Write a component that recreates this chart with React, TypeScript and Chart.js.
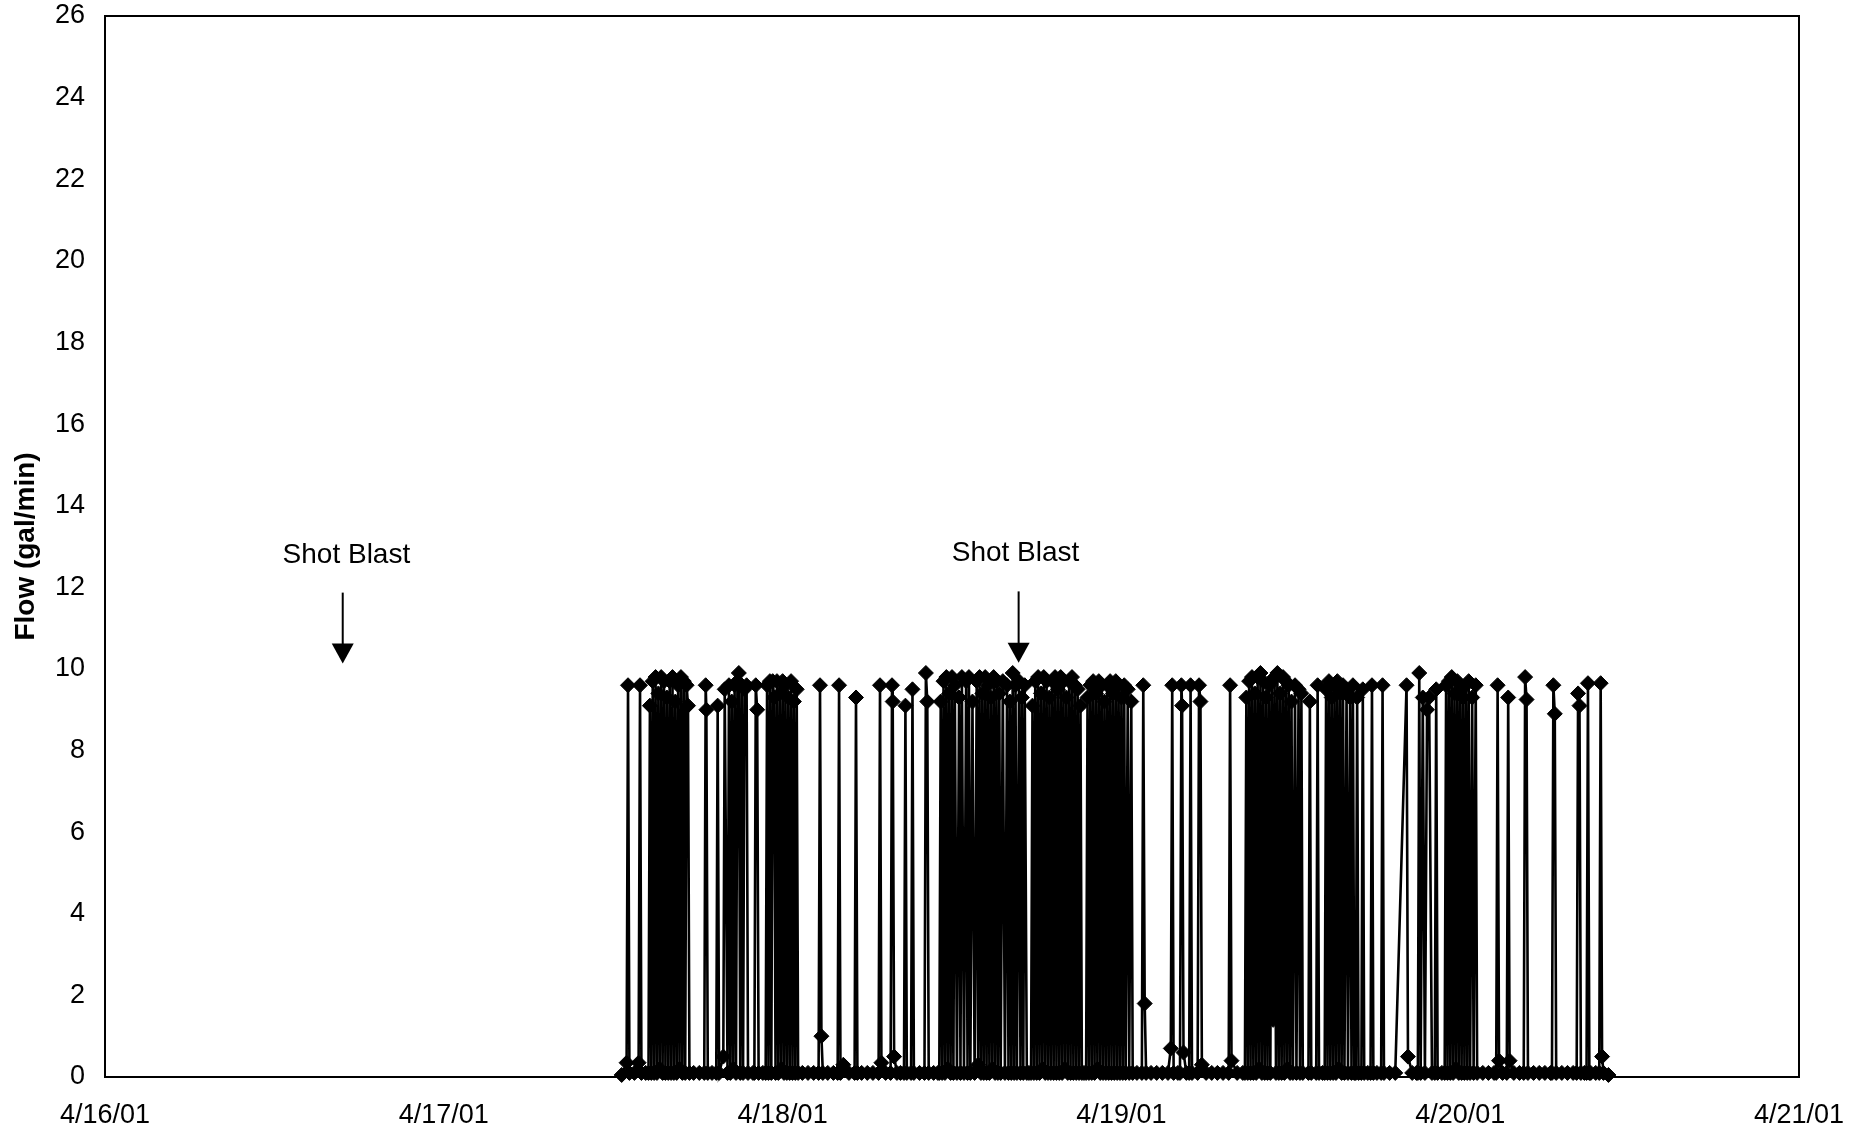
import React, { useEffect, useRef } from 'react';
import { Chart, registerables } from 'chart.js';

Chart.register(...registerables);

// x axis: hours since 4/16/01 00:00; one tick per day
const dateLabels = ['4/16/01', '4/17/01', '4/18/01', '4/19/01', '4/20/01', '4/21/01'];
const yAxisTitle = 'Flow (gal/min)';

// Flow readings (hours since 4/16/01 00:00) and flow (gal/min)
const flowHours = [
  36.6, 36.95, 37.05, 37.15, 37.5, 37.8, 37.9, 38.0, 38.3, 38.5,
  38.6, 38.7, 38.8, 38.9, 39.0, 39.1, 39.2, 39.3, 39.4, 39.5,
  39.6, 39.7, 39.8, 39.9, 40.0, 40.1, 40.2, 40.3, 40.4, 40.5,
  40.6, 40.7, 40.8, 40.9, 41.0, 41.1, 41.2, 41.3, 41.4,
  41.7, 42.1, 42.45, 42.55, 42.6, 42.7, 43.0,
  43.3, 43.4, 43.5, 43.8, 43.9, 44.1, 44.2, 44.3, 44.4, 44.5,
  44.6, 44.7, 44.8, 44.9, 45.0, 45.1, 45.2, 45.3, 45.45, 45.55,
  45.9, 46.0, 46.1, 46.2, 46.3, 46.6,
  46.8, 46.9, 47.0, 47.1, 47.2, 47.3, 47.4, 47.5, 47.6, 47.7,
  47.8, 47.9, 48.0, 48.1, 48.2, 48.3, 48.4, 48.5, 48.6, 48.7,
  48.8, 48.9, 49.0, 49.1,
  49.4, 49.8, 50.2, 50.55, 50.65, 50.75, 50.85, 51.2, 51.6, 51.9,
  52.0, 52.1, 52.3, 52.7, 53.1, 53.2, 53.3, 53.6, 54.0, 54.4,
  54.8, 54.9, 55.0,
  55.3, 55.65, 55.75, 55.8, 55.9, 56.1, 56.35, 56.6, 56.7, 56.8,
  57.1, 57.2, 57.3, 57.7, 58.05, 58.15, 58.25, 58.35, 58.7,
  59.0, 59.1, 59.2, 59.3, 59.4, 59.5, 59.6, 59.7, 59.8, 59.9,
  60.0, 60.1, 60.2, 60.35, 60.5, 60.6, 60.7, 60.85, 61.0, 61.1,
  61.2, 61.3, 61.45, 61.6, 61.75, 61.85, 61.95, 62.05, 62.15, 62.25,
  62.35, 62.45, 62.55, 62.65, 62.75, 62.85, 62.95, 63.05, 63.15, 63.25,
  63.35, 63.45, 63.6, 63.75, 63.9, 64.0, 64.1, 64.2, 64.3, 64.4,
  64.5, 64.6, 64.75, 64.85, 64.95, 65.05, 65.15, 65.3, 65.45, 65.6,
  65.7, 65.8, 65.9, 66.0, 66.1, 66.2, 66.3, 66.4, 66.5, 66.6,
  66.7, 66.8, 66.9, 67.0, 67.1, 67.2, 67.3, 67.4, 67.5, 67.6,
  67.7, 67.8, 67.9, 68.0, 68.1, 68.2, 68.3, 68.4, 68.5, 68.6,
  68.7, 68.8, 68.9, 69.0, 69.1, 69.2, 69.35, 69.5,
  69.6, 69.7, 69.8, 69.9, 70.0, 70.1, 70.2, 70.3, 70.4, 70.5,
  70.6, 70.7, 70.8, 70.9, 71.0, 71.1, 71.2, 71.3, 71.4, 71.5,
  71.6, 71.7, 71.8, 71.9, 72.0, 72.1, 72.2, 72.3, 72.45, 72.55,
  72.7, 72.8, 73.1,
  73.45, 73.55, 73.65, 73.75, 74.1, 74.5, 74.9, 75.3, 75.5, 75.6,
  75.7, 76.0, 76.15, 76.25, 76.3, 76.4, 76.6, 76.8, 76.9, 77.0,
  77.4, 77.5, 77.6, 77.7, 78.0, 78.4, 78.8, 79.2, 79.6, 79.7,
  79.8, 80.2, 80.6, 80.75,
  80.85, 80.95, 81.05, 81.15, 81.25, 81.35, 81.45, 81.55, 81.65, 81.75,
  81.85, 81.95, 82.05, 82.15, 82.25, 82.35, 82.45, 82.55, 82.65, 82.75,
  82.85, 82.95, 83.05, 83.15, 83.25, 83.35, 83.45, 83.55, 83.65, 83.75,
  83.85, 83.95, 84.05, 84.15, 84.3, 84.4, 84.55, 84.65, 84.75, 84.85,
  85.25, 85.35, 85.45, 85.8, 85.9, 86.0, 86.25, 86.4, 86.5, 86.6,
  86.7, 86.8, 86.9, 87.0, 87.1, 87.2, 87.3, 87.4, 87.5, 87.6,
  87.7, 87.8, 87.95, 88.05, 88.2, 88.3, 88.4, 88.5, 88.6, 88.7,
  88.8, 89.0, 89.1, 89.2, 89.45, 89.65, 89.75, 89.85, 90.1, 90.4,
  90.5, 90.6, 91.0, 91.4,
  92.2, 92.3, 92.6, 92.9, 93.0, 93.1, 93.2, 93.35, 93.5, 93.65,
  93.8, 94.0, 94.2, 94.3, 94.4, 94.7, 94.9, 95.0, 95.1, 95.2,
  95.3, 95.4, 95.5, 95.6, 95.7, 95.8, 95.9, 96.0, 96.1, 96.2,
  96.3, 96.4, 96.5, 96.6, 96.7, 96.85, 96.95, 97.1, 97.2,
  97.6, 98.0, 98.4, 98.55, 98.65, 98.75, 99.0, 99.3, 99.4, 99.5,
  99.8, 100.2, 100.5, 100.6, 100.7, 100.8, 101.2, 101.6, 102.0, 102.4,
  102.5, 102.6, 102.7, 102.8, 103.2, 103.6, 104.0, 104.25, 104.35, 104.45,
  104.55, 104.8, 104.95, 105.05, 105.15, 105.25, 105.6, 105.85, 105.95, 106.05,
  106.15, 106.5,
];

const flowValues = [
  0.05, 0.35, 9.6, 0.1, 0.1, 0.35, 9.6, 0.1, 0.1, 0.1,
  9.1, 0.1, 9.7, 0.1, 9.8, 0.1, 9.4, 0.2, 9.8, 0.1,
  9.7, 0.1, 9.3, 0.1, 9.7, 0.1, 9.8, 0.1, 9.2, 0.1,
  9.6, 0.2, 9.8, 0.1, 9.7, 0.1, 9.6, 9.1, 0.1,
  0.1, 0.1, 0.1, 9.6, 9.0, 0.1, 0.1,
  0.1, 9.1, 0.1, 0.5, 9.5, 0.1, 9.6, 0.1, 9.2, 0.2,
  9.6, 0.1, 9.7, 9.9, 0.1, 9.6, 0.1, 9.5, 9.6, 0.1,
  0.1, 0.1, 9.6, 9.0, 0.1, 0.1,
  0.1, 9.6, 0.1, 9.7, 0.1, 9.7, 9.3, 0.1, 9.7, 0.1,
  9.4, 0.2, 9.7, 0.1, 9.6, 0.1, 9.3, 0.1, 9.7, 0.1,
  9.2, 0.1, 9.5, 0.1,
  0.1, 0.1, 0.1, 0.1, 9.6, 1.0, 0.1, 0.1, 0.1, 0.1,
  9.6, 0.1, 0.3, 0.1, 0.1, 9.3, 0.1, 0.1, 0.1, 0.1,
  0.1, 9.6, 0.35,
  0.1, 0.1, 9.6, 9.2, 0.5, 0.1, 0.1, 0.1, 9.1, 0.1,
  0.1, 9.5, 0.1, 0.1, 0.1, 9.9, 9.2, 0.1, 0.1,
  0.1, 0.1, 9.2, 0.1, 9.7, 0.1, 9.8, 0.2, 9.4, 0.1,
  9.8, 0.1, 9.6, 0.1, 9.3, 0.1, 9.8, 0.1, 9.7, 0.1,
  9.8, 0.1, 9.2, 0.1, 9.7, 0.3, 9.8, 0.1, 9.4, 0.1,
  9.8, 0.1, 9.6, 0.1, 9.3, 0.2, 9.8, 0.1, 9.7, 0.1,
  9.4, 0.1, 9.7, 0.1, 9.6, 0.1, 9.2, 0.1, 9.9, 0.1,
  9.6, 0.1, 9.7, 0.1, 9.3, 0.1, 9.6, 0.1, 0.1, 0.1,
  9.1, 0.1, 9.7, 0.1, 9.8, 0.1, 9.4, 0.2, 9.8, 0.1,
  9.7, 0.1, 9.3, 0.1, 9.7, 0.1, 9.8, 0.1, 9.5, 0.1,
  9.8, 0.1, 9.7, 0.2, 9.3, 0.1, 9.7, 0.1, 9.8, 0.1,
  9.6, 0.1, 9.5, 0.1, 9.1, 0.1, 0.1, 0.1,
  9.3, 0.1, 9.6, 0.1, 9.7, 0.1, 9.4, 0.2, 9.7, 0.1,
  9.6, 0.1, 9.2, 0.1, 9.6, 0.1, 9.7, 0.1, 9.4, 0.1,
  9.7, 0.1, 9.6, 0.1, 9.3, 0.1, 9.6, 0.1, 9.5, 0.1,
  9.2, 0.1, 0.1,
  0.1, 9.6, 1.8, 0.1, 0.1, 0.1, 0.1, 0.1, 0.7, 9.6,
  0.1, 0.1, 0.1, 9.6, 9.1, 0.6, 0.1, 0.1, 9.6, 0.1,
  0.1, 9.6, 9.2, 0.3, 0.1, 0.1, 0.1, 0.1, 0.1, 9.6,
  0.4, 0.1, 0.1, 0.1,
  9.3, 0.1, 9.7, 0.1, 9.8, 0.1, 9.4, 0.1, 9.8, 0.2,
  9.9, 0.1, 9.7, 0.1, 9.3, 0.1, 9.6, 0.1, 9.7, 1.4,
  9.8, 0.1, 9.9, 0.1, 9.4, 0.1, 9.8, 0.1, 9.7, 0.2,
  9.6, 0.1, 9.2, 0.1, 9.6, 0.1, 9.5, 0.1, 9.4, 0.1,
  0.1, 9.2, 0.1, 0.1, 9.6, 0.1, 0.1, 0.1, 9.5, 0.1,
  9.7, 0.1, 9.3, 0.1, 9.6, 0.1, 9.7, 0.2, 9.4, 0.1,
  9.6, 0.1, 9.5, 0.1, 9.3, 0.1, 9.6, 0.1, 0.1, 9.3,
  0.1, 0.1, 9.5, 0.1, 0.1, 0.1, 9.6, 0.1, 0.1, 0.1,
  9.6, 0.1, 0.1, 0.1,
  9.6, 0.5, 0.1, 0.1, 0.1, 9.9, 0.1, 9.3, 0.1, 9.0,
  9.3, 0.1, 0.1, 9.5, 0.1, 0.1, 0.1, 9.6, 0.1, 9.7,
  0.1, 9.8, 0.1, 9.4, 0.2, 9.7, 0.1, 9.6, 0.1, 9.3,
  0.1, 9.6, 0.1, 9.7, 0.1, 9.3, 0.1, 9.6, 0.1,
  0.1, 0.1, 0.1, 0.1, 9.6, 0.4, 0.1, 0.1, 9.3, 0.4,
  0.1, 0.1, 0.1, 9.8, 9.25, 0.1, 0.1, 0.1, 0.1, 0.1,
  0.1, 9.6, 8.9, 0.1, 0.1, 0.1, 0.1, 0.1, 9.4, 9.1,
  0.1, 0.1, 0.1, 9.65, 0.1, 0.1, 0.1, 0.1, 9.65, 0.5,
  0.1, 0.05,
];

// "Shot Blast" annotations (hours / flow units)
const shotBlastLabels = ['Shot Blast', 'Shot Blast'];
const shotBlastTextHours = [17.1, 64.5];
const shotBlastTextFlows = [12.6, 12.65];
const shotBlastArrowHours = [16.84, 64.72];
const shotBlastArrowTopFlows = [11.87, 11.9];
const shotBlastArrowTipFlows = [10.13, 10.15];

const FONT = '"Liberation Sans", Arial, Helvetica, sans-serif';

const framePlugin = {
  id: 'plotFrame',
  afterDatasetsDraw(chart: any) {
    const { ctx, chartArea: a } = chart;
    ctx.save();
    ctx.strokeStyle = '#000';
    ctx.lineWidth = 2;
    ctx.strokeRect(a.left, a.top, a.right - a.left, a.bottom - a.top);
    ctx.restore();
  },
};

const shotBlastPlugin = {
  id: 'shotBlast',
  afterDraw(chart: any) {
    const { ctx } = chart;
    const xs = chart.scales.x;
    const ys = chart.scales.y;
    ctx.save();
    ctx.fillStyle = '#000';
    ctx.strokeStyle = '#000';
    ctx.font = `28px ${FONT}`;
    ctx.textAlign = 'center';
    ctx.textBaseline = 'alphabetic';
    shotBlastLabels.forEach((label, i) => {
      ctx.fillText(label, xs.getPixelForValue(shotBlastTextHours[i]), ys.getPixelForValue(shotBlastTextFlows[i]));
      const ax = xs.getPixelForValue(shotBlastArrowHours[i]);
      const top = ys.getPixelForValue(shotBlastArrowTopFlows[i]);
      const tip = ys.getPixelForValue(shotBlastArrowTipFlows[i]);
      const headH = 20;
      const headW = 11;
      ctx.lineWidth = 2;
      ctx.beginPath();
      ctx.moveTo(ax, top);
      ctx.lineTo(ax, tip - headH + 2);
      ctx.stroke();
      ctx.beginPath();
      ctx.moveTo(ax - headW, tip - headH);
      ctx.lineTo(ax + headW, tip - headH);
      ctx.lineTo(ax, tip);
      ctx.closePath();
      ctx.fill();
    });
    ctx.restore();
  },
};

export default function App() {
  const canvasRef = useRef<HTMLCanvasElement | null>(null);

  useEffect(() => {
    const canvas = canvasRef.current;
    if (!canvas) return;
    const n = Math.min(flowHours.length, flowValues.length);
    const points = [];
    for (let i = 0; i < n; i++) points.push({ x: flowHours[i], y: flowValues[i] });

    const chart = new Chart(canvas, {
      type: 'line',
      data: {
        datasets: [
          {
            data: points,
            borderColor: '#000',
            backgroundColor: '#000',
            borderWidth: 2.6,
            pointStyle: 'rectRot',
            pointRadius: 7.5,
            pointBorderWidth: 1,
            pointBackgroundColor: '#000',
            pointBorderColor: '#000',
            tension: 0,
            fill: false,
            clip: false as any,
          },
        ],
      },
      options: {
        responsive: false,
        animation: false,
        events: [],
        layout: { padding: { top: 16, right: 73, bottom: 0, left: 0 } },
        plugins: {
          legend: { display: false },
          tooltip: { enabled: false },
          title: { display: false },
        },
        scales: {
          x: {
            type: 'linear',
            min: 0,
            max: 120,
            grid: { display: false, drawTicks: false },
            border: { display: true, color: '#000', width: 2 },
            ticks: {
              stepSize: 24,
              autoSkip: false,
              maxRotation: 0,
              color: '#000',
              padding: 22,
              font: { family: FONT, size: 27 },
              callback: (v: any) => dateLabels[Math.round(Number(v) / 24)] ?? '',
            },
            afterFit: (s: any) => {
              s.height = 60;
              s.paddingLeft = 0;
              s.paddingRight = 0;
            },
          },
          y: {
            min: 0,
            max: 26,
            grid: { display: false, drawTicks: false },
            border: { display: true, color: '#000', width: 2 },
            ticks: {
              stepSize: 2,
              color: '#000',
              padding: 20,
              font: { family: FONT, size: 27 },
            },
            title: {
              display: true,
              text: yAxisTitle,
              color: '#000',
              font: { family: FONT, size: 28, weight: 'bold' },
              padding: { top: 9, bottom: 9 },
            },
            afterFit: (s: any) => {
              s.width = 105;
              s.paddingTop = 0;
              s.paddingBottom = 0;
            },
          },
        },
      },
      plugins: [framePlugin, shotBlastPlugin],
    });
    return () => chart.destroy();
  }, []);

  return (
    <div style={{ position: 'absolute', left: 0, top: 0, width: 1872, height: 1137, background: '#fff' }}>
      <canvas ref={canvasRef} width={1872} height={1137} style={{ display: 'block' }} />
    </div>
  );
}
